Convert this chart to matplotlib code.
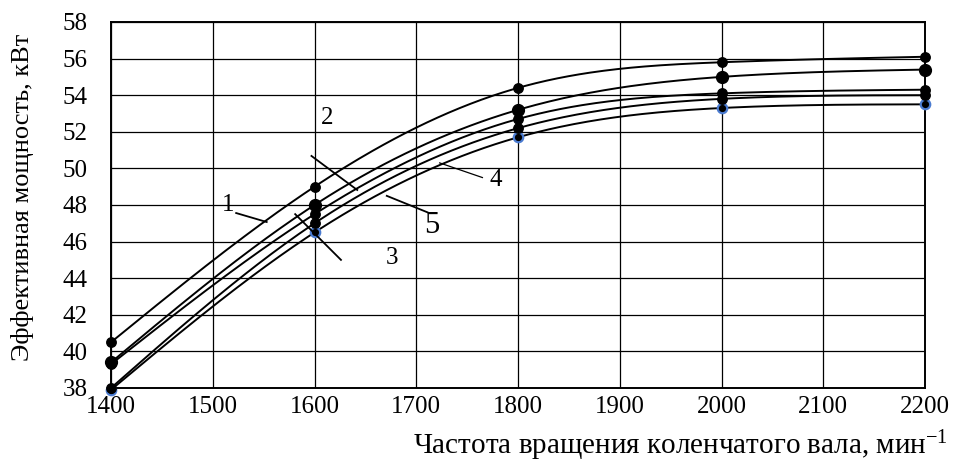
import numpy as np
import matplotlib
matplotlib.use("Agg")
import matplotlib.pyplot as plt

plt.rcParams['font.family'] = ['Liberation Serif', 'DejaVu Serif']
plt.rcParams['mathtext.fontset'] = 'custom'
plt.rcParams['mathtext.rm'] = 'Liberation Serif'
plt.rcParams['mathtext.it'] = 'Liberation Serif'

# Crankshaft speed, rpm
rpm = [1400, 1600, 1800, 2000, 2200]

# Effective power for each variant, kW
power_1 = [40.5, 49.0, 54.4, 55.8, 56.1]
power_2 = [39.4, 48.0, 53.2, 55.0, 55.4]
power_3 = [39.3, 47.5, 52.7, 54.1, 54.3]
power_4 = [38.0, 47.0, 52.2, 53.8, 54.0]
power_5 = [37.9, 46.5, 51.7, 53.3, 53.5]

x_ticks = [1400, 1500, 1600, 1700, 1800, 1900, 2000, 2100, 2200]
y_ticks = [38, 40, 42, 44, 46, 48, 50, 52, 54, 56, 58]


def natural_spline(x, y, n=300):
    x = np.asarray(x, float)
    y = np.asarray(y, float)
    k = len(x)
    h = np.diff(x)
    A = np.zeros((k, k))
    b = np.zeros(k)
    A[0, 0] = A[-1, -1] = 1
    for i in range(1, k - 1):
        A[i, i - 1] = h[i - 1]
        A[i, i] = 2 * (h[i - 1] + h[i])
        A[i, i + 1] = h[i]
        b[i] = 6 * ((y[i + 1] - y[i]) / h[i] - (y[i] - y[i - 1]) / h[i - 1])
    M = np.linalg.solve(A, b)
    xs = np.linspace(x[0], x[-1], n)
    ys = np.empty_like(xs)
    for j, xv in enumerate(xs):
        i = min(np.searchsorted(x, xv, side='right') - 1, k - 2)
        t0 = x[i + 1] - xv
        t1 = xv - x[i]
        ys[j] = (M[i] * t0 ** 3 / (6 * h[i]) + M[i + 1] * t1 ** 3 / (6 * h[i])
                 + (y[i] / h[i] - M[i] * h[i] / 6) * t0
                 + (y[i + 1] / h[i] - M[i + 1] * h[i] / 6) * t1)
    return xs, ys


fig = plt.figure(figsize=(9.57, 4.66), dpi=100)
ax = fig.add_axes([0.116, 0.1674, 0.8506, 0.7854])

series = [power_1, power_2, power_3, power_4, power_5]
for idx, vals in enumerate(series):
    xs, ys = natural_spline(rpm, vals)
    ax.plot(xs, ys, color='black', lw=1.4, zorder=3)
    if idx == 4:
        ax.plot(rpm, vals, 'o', ms=6.8, mfc='black', mec='#4a7bd0', mew=1.6,
                zorder=4, clip_on=False)
    elif idx == 1:
        ax.plot(rpm, vals, 'o', ms=8.5, color='black', zorder=5, clip_on=False)
    else:
        ax.plot(rpm, vals, 'o', ms=6.8, color='black', zorder=5, clip_on=False)

ax.set_xlim(1400, 2200)
ax.set_ylim(38, 58)
ax.set_xticks(x_ticks)
ax.set_yticks(y_ticks)
ax.grid(True, color='black', lw=0.9)
ax.set_axisbelow(True)
for s in ax.spines.values():
    s.set_linewidth(1.4)
ax.tick_params(length=0, labelsize=18)
ax.tick_params(axis='y', pad=17)
ax.tick_params(axis='x', pad=6)

# Curve labels with leader lines
leaders = [
    ((1523, 47.56), (1553, 47.07), '1', (1515, 48.0), 18),
    ((1597, 50.68), (1642, 48.82), '2', (1612, 52.75), 18),
    ((1581, 47.5), (1626, 45.0), '3', (1676, 45.1), 18),
    ((1671, 48.5), (1711, 47.6), '5', (1715, 46.9), 22),
    ((1723, 50.3), (1765, 49.5), '4', (1778, 49.37), 18),
]
for (x0, y0), (x1, y1), txt, (tx, ty), fs in leaders:
    lw = 0.9 if txt == '4' else 1.3
    ax.plot([x0, x1], [y0, y1], color='black', lw=lw, zorder=6)
    ax.text(tx, ty, txt, fontsize=fs, ha='center', va='center', zorder=7)

fig.text(0.024, 0.577, 'Эффективная мощность, кВт', rotation=90,
         fontsize=19, ha='center', va='center')
fig.text(0.99, 0.043, 'Частота вращения коленчатого вала, мин$^{-1}$',
         fontsize=21, ha='right', va='center')

fig.savefig('out.png', dpi=100)
